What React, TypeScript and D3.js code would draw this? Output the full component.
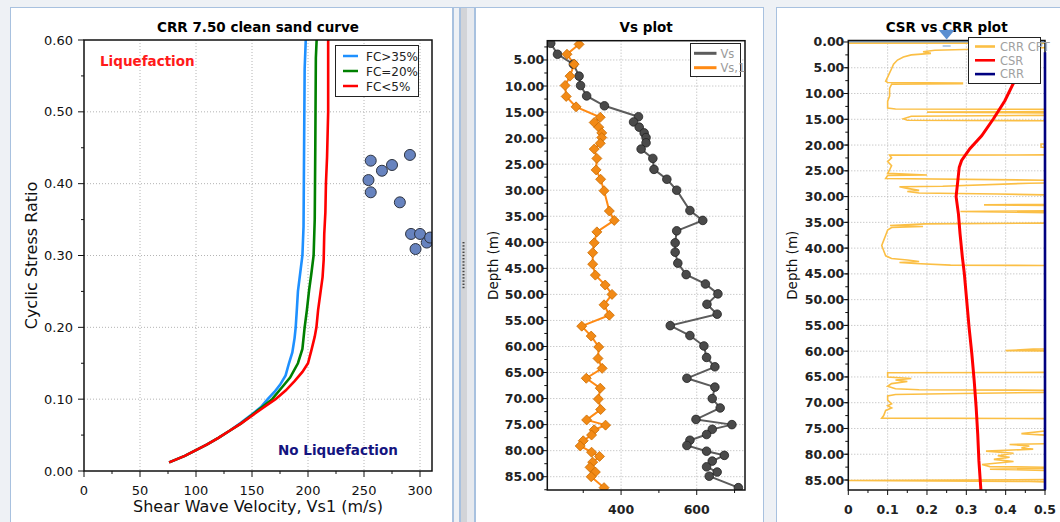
import React from 'react';
import * as d3 from 'd3';

// ---------- Panel 1: CRR clean sand curves ----------
const P1_TITLE = 'CRR 7.50 clean sand curve';
const P1_X_TICKS = [0, 50, 100, 150, 200, 250, 300];
const P1_Y_TICKS = [0, 0.1, 0.2, 0.3, 0.4, 0.5, 0.6];
const FC35_CURVE: [number, number][] = [
  [76, 0.012], [90, 0.021], [100, 0.029], [110, 0.037], [120, 0.046], [130, 0.056], [140, 0.067],
  [150, 0.079], [158, 0.089], [164, 0.1], [170, 0.11], [175, 0.12], [180, 0.133], [183, 0.15],
  [186, 0.165], [188, 0.185], [189, 0.2], [190, 0.224], [191, 0.25], [193, 0.275], [195, 0.3],
  [196, 0.34], [196.5, 0.45], [197, 0.56], [198, 0.6],
];
const FC20_CURVE: [number, number][] = [
  [76, 0.012], [90, 0.021], [100, 0.029], [110, 0.037], [120, 0.046], [130, 0.056], [140, 0.066],
  [150, 0.078], [160, 0.09], [168, 0.1], [177, 0.117], [184, 0.13], [191, 0.15], [195, 0.17],
  [197, 0.2], [199, 0.224], [201, 0.252], [203, 0.275], [205, 0.3], [206, 0.35], [206.5, 0.45],
  [207, 0.575], [207.7, 0.6],
];
const FC5_CURVE: [number, number][] = [
  [76, 0.012], [90, 0.021], [100, 0.029], [110, 0.037], [120, 0.046], [130, 0.056], [140, 0.066],
  [150, 0.077], [160, 0.088], [171, 0.1], [180, 0.112], [188, 0.125], [195, 0.138], [200, 0.15],
  [203, 0.168], [206, 0.187], [207.5, 0.2], [209, 0.224], [211, 0.247], [213, 0.27], [214, 0.294],
  [214.5, 0.33], [215.5, 0.36], [216, 0.4], [217, 0.437], [218, 0.5], [218, 0.6],
];
const FIELD_POINTS: [number, number][] = [
  [254, 0.405], [256, 0.432], [256, 0.388], [266, 0.418], [275, 0.426], [291, 0.44],
  [282, 0.374], [292, 0.33], [300, 0.33], [296, 0.309], [306, 0.318], [309, 0.325],
];
const P1_LEGEND = ['FC>35%', 'FC=20%', 'FC<5%'];
const P1_COLORS = ['#1e90ff', '#008000', '#ff0000'];

// ---------- Panel 2: Vs profile ([depth, value]) ----------
const VS_PROFILE: [number, number][] = [
  [1.8, 214], [3.9, 232], [5.8, 274], [8.1, 289], [9.9, 293], [11.9, 309], [13.8, 356], [15.9, 446],
  [16.9, 433], [17.9, 448], [19.0, 461], [19.9, 466], [20.9, 466], [22.1, 453], [23.9, 484], [26.0, 487],
  [27.9, 521], [30.0, 547], [33.9, 582], [35.8, 616], [37.8, 547], [40.1, 543], [41.9, 543], [44.0, 550],
  [46.2, 572], [48.0, 623], [49.9, 656], [51.9, 627], [53.8, 654], [56.0, 530], [57.9, 582], [59.9, 619],
  [62.1, 626], [63.9, 648], [66.1, 574], [67.8, 648], [70.0, 641], [71.8, 662], [74.0, 598], [75.0, 693],
  [75.9, 641], [76.9, 626], [78.0, 582], [79.0, 574], [80.1, 626], [80.9, 673], [82.0, 641], [83.1, 626],
  [84.1, 654], [84.9, 633], [87.1, 710],
];
const VS1_PROFILE: [number, number][] = [
  [2.0, 289], [3.9, 257], [5.8, 276], [8.1, 265], [9.9, 252], [12.0, 255], [14.0, 281], [16.0, 345],
  [17.0, 329], [17.9, 341], [19.0, 349], [19.9, 349], [21.0, 345], [22.1, 329], [23.9, 336], [26.1, 334],
  [27.9, 346], [30.1, 355], [34.0, 369], [35.8, 382], [38.0, 336], [40.1, 329], [42.0, 325], [44.2, 325],
  [46.3, 332], [48.2, 358], [50.0, 376], [52.0, 355], [54.0, 369], [56.1, 296], [58.0, 321], [60.1, 341],
  [62.3, 339], [64.2, 350], [66.1, 308], [68.0, 345], [70.1, 340], [72.1, 346], [74.1, 309], [75.1, 359],
  [76.0, 329], [77.0, 322], [78.1, 300], [79.1, 292], [80.3, 322], [81.1, 343], [82.2, 325], [83.2, 318],
  [84.1, 332], [85.0, 321], [87.1, 355],
];
const P2_X_TICKS = [400, 600];
const P2_X_MINOR = [300, 500, 700];
const P2_Y_TICKS = [5, 10, 15, 20, 25, 30, 35, 40, 45, 50, 55, 60, 65, 70, 75, 80, 85];
const P2_LEGEND = ['Vs', 'Vs,1'];

// ---------- Panel 3: CSR vs CRR ([value, depth]) ----------
const CSR_PROFILE: [number, number][] = [
  [0.46, 4.5], [0.44, 6], [0.419, 8.1], [0.398, 11.4], [0.369, 14.9], [0.339, 18.2], [0.309, 20.7],
  [0.288, 23.0], [0.282, 24.3], [0.278, 27.2], [0.274, 30.0], [0.28, 33.4], [0.284, 37.2], [0.29, 41.8],
  [0.295, 45.0], [0.301, 50.2], [0.307, 55.4], [0.314, 60.5], [0.32, 65.7], [0.325, 70.9], [0.329, 76.1],
  [0.332, 81.3], [0.337, 86.9],
];
const CRR_PROFILE: [number, number][] = [[0.5, 2.0], [0.5, 86.9]];
const CRR_CPT_PROFILE: [number, number][] = [
  [0.0, 0.25], [0.6, 0.25], [0.6, 0.9], [0.45, 1.2], [0.32, 1.4], [0.22, 1.6], [0.19, 1.9], [0.21, 2.2],
  [0.16, 2.5], [0.14, 2.9], [0.125, 3.5], [0.115, 4.3], [0.11, 5.2], [0.105, 6.0], [0.1, 6.8], [0.095, 7.6],
  [0.1, 7.85], [0.29, 7.95], [0.29, 8.1], [0.11, 8.2], [0.105, 9.0], [0.105, 10.5], [0.1, 11.5], [0.1, 12.8],
  [0.12, 13.0], [0.6, 13.1], [0.6, 13.5], [0.2, 13.6], [0.6, 13.8], [0.6, 14.2], [0.16, 14.4], [0.14, 14.9],
  [0.15, 15.2], [0.6, 15.3], [0.6, 19.6], [0.49, 19.8], [0.49, 20.4], [0.6, 20.6], [0.6, 21.9],
  [0.105, 21.95], [0.11, 22.5], [0.1, 23.2], [0.11, 24], [0.105, 24.8], [0.1, 25.5], [0.2, 25.8],
  [0.1, 25.9], [0.095, 26.5], [0.6, 26.9], [0.6, 27.3], [0.46, 27.4], [0.24, 28.0], [0.13, 28.1],
  [0.15, 28.4], [0.18, 28.8], [0.15, 29.0], [0.18, 29.3], [0.38, 29.5], [0.6, 29.8], [0.6, 31.5],
  [0.345, 31.6], [0.6, 31.8], [0.6, 32.7], [0.285, 32.9], [0.6, 33.2], [0.6, 35.1], [0.196, 35.3],
  [0.106, 35.6], [0.19, 35.8], [0.11, 36.0], [0.1, 36.5], [0.095, 37.5], [0.09, 38.5], [0.085, 39.5],
  [0.09, 40.5], [0.095, 41.5], [0.11, 42.0], [0.15, 42.3], [0.18, 42.6], [0.13, 42.8], [0.17, 43.0],
  [0.26, 43.3], [0.6, 43.4], [0.6, 59.5], [0.47, 59.6], [0.4, 59.9], [0.6, 60.0], [0.6, 64.1],
  [0.1, 64.2], [0.1, 65.0], [0.16, 65.3], [0.12, 65.6], [0.15, 65.9], [0.11, 66.3], [0.1, 66.8],
  [0.12, 67.3], [0.18, 67.5], [0.6, 67.6], [0.6, 67.9], [0.285, 68.2], [0.12, 68.4], [0.1, 68.7],
  [0.1, 69.5], [0.11, 70.2], [0.1, 70.6], [0.11, 71.0], [0.095, 71.5], [0.09, 72.5], [0.085, 73.0],
  [0.6, 73.1], [0.6, 75.3], [0.5, 75.5], [0.44, 76.0], [0.5, 76.3], [0.6, 76.5], [0.6, 77.8],
  [0.41, 78.1], [0.46, 78.4], [0.44, 78.8], [0.47, 79.0], [0.35, 79.4], [0.42, 79.8], [0.38, 80.3],
  [0.41, 80.6], [0.37, 81.0], [0.42, 81.4], [0.34, 82.0], [0.36, 82.4], [0.6, 82.6], [0.36, 82.9],
  [0.6, 83.3], [0.6, 84.9], [0.0, 85.1], [0.46, 85.3], [0.6, 85.5], [0.6, 87.1],
];
const WATER_TABLE = { value: 0.25, depth: 0 };
const P3_X_TICKS = [0, 0.1, 0.2, 0.3, 0.4, 0.5];
const P3_Y_TICKS = [0, 5, 10, 15, 20, 25, 30, 35, 40, 45, 50, 55, 60, 65, 70, 75, 80, 85];
const P3_LEGEND = ['CRR CPT', 'CSR', 'CRR'];
const P3_COLORS = ['#fbbf45', '#ff0000', '#000080'];

const FONT = "'DejaVu Sans', Verdana, sans-serif";
const FRAME = '#a8c1df';
const GRID = '#b4b4b4';

export default function App() {
  // scales
  const x1 = d3.scaleLinear().domain([0, 310.7]).range([84, 432]);
  const y1 = d3.scaleLinear().domain([0, 0.6]).range([471, 40]);
  const x2 = d3.scaleLinear().domain([205, 727.6]).range([547.3, 745]);
  const y2 = d3.scaleLinear().domain([1.3, 87.55]).range([40.7, 490]);
  const x3 = d3.scaleLinear().domain([0, 0.5]).range([848.3, 1045]);
  const y3 = d3.scaleLinear().domain([-0.29, 86.94]).range([40.5, 490]);

  const line1 = d3.line<[number, number]>().x(d => x1(d[0])).y(d => y1(d[1]));
  const line2 = d3.line<[number, number]>().x(d => x2(d[1])).y(d => y2(d[0]));
  const line3 = d3.line<[number, number]>().x(d => x3(d[0])).y(d => y3(d[1]));

  const [p1l, p1r] = x1.range();
  const [p1b, p1t] = y1.range();
  const [p2l, p2r] = x2.range();
  const [p2t, p2b] = y2.range();
  const [p3l, p3r] = x3.range();
  const [p3t, p3b] = y3.range();

  const p1xMinor = d3.range(25, 311, 25);
  const p1yMinor = d3.range(0.05, 0.6, 0.1);
  const p2yMinor = d3.range(2.5, 88, 2.5);
  const p3yMinor = d3.range(2.5, 87, 2.5);
  const p3xMinor = d3.range(0.05, 0.5, 0.1);

  const diamond = (cx: number, cy: number, r: number) =>
    `M${cx},${cy - r}L${cx + r},${cy}L${cx},${cy + r}L${cx - r},${cy}Z`;

  return (
    <svg width={1060} height={522} style={{ position: 'absolute', left: 0, top: 0, display: 'block' }}
      fontFamily={FONT}>
      <defs>
        <clipPath id="c1"><rect x={p1l} y={p1t} width={p1r - p1l} height={p1b - p1t} /></clipPath>
        <clipPath id="c2"><rect x={p2l} y={p2t} width={p2r - p2l} height={p2b - p2t} /></clipPath>
        <clipPath id="c3"><rect x={p3l} y={p3t - 2} width={p3r - p3l} height={p3b - p3t + 2} /></clipPath>
      </defs>
      <rect x={0} y={0} width={1060} height={522} fill="#eef1f5" />

      {/* frames */}
      <rect x={10.5} y={7.5} width={442} height={530} fill="#fff" stroke={FRAME} />
      <rect x={453.5} y={7.5} width={6} height={530} fill="#eef1f5" stroke={FRAME} />
      <rect x={460.5} y={7.5} width={14} height={530} fill="#e6e9ee" stroke={FRAME} />
      <rect x={461} y={8} width={6} height={530} fill="#d2d4d8" />
      {d3.range(242, 290, 3.2).map((yy, i) => (
        <rect key={i} x={462.5} y={yy} width={2} height={1.4} fill="#444" />
      ))}
      <rect x={475.5} y={7.5} width={288} height={530} fill="#fff" stroke={FRAME} />
      <rect x={776.5} y={7.5} width={300} height={530} fill="#fff" stroke={FRAME} />

      {/* ================= Panel 1 ================= */}
      <g>
        {P1_X_TICKS.filter(t => t > 0).map(t => (
          <line key={'gx' + t} x1={x1(t)} x2={x1(t)} y1={p1t} y2={p1b} stroke={GRID} strokeDasharray="1,2" />
        ))}
        {P1_Y_TICKS.filter(t => t > 0 && t < 0.6).map(t => (
          <line key={'gy' + t} x1={p1l} x2={p1r} y1={y1(t)} y2={y1(t)} stroke={GRID} strokeDasharray="1,2" />
        ))}
        <g clipPath="url(#c1)">
          {[FC35_CURVE, FC20_CURVE, FC5_CURVE].map((c, i) => (
            <path key={i} d={line1(c) || ''} fill="none" stroke={P1_COLORS[i]} strokeWidth={2.6} />
          ))}
          {FIELD_POINTS.map((p, i) => (
            <circle key={i} cx={x1(p[0])} cy={y1(p[1])} r={5.5} fill="#6783bf" stroke="#2d3340" strokeWidth={1} />
          ))}
        </g>
        <rect x={p1l} y={p1t} width={p1r - p1l} height={p1b - p1t} fill="none" stroke="#111" strokeWidth={1.5} />
        {P1_X_TICKS.map(t => (
          <g key={'tx' + t}>
            <line x1={x1(t)} x2={x1(t)} y1={p1b} y2={p1b + 6} stroke="#111" />
            <text x={x1(t)} y={495} fontSize={13} textAnchor="middle" fill="#111">{t}</text>
          </g>
        ))}
        {p1xMinor.filter(t => P1_X_TICKS.indexOf(t) < 0).map(t => (
          <line key={'mx' + t} x1={x1(t)} x2={x1(t)} y1={p1b} y2={p1b + 3} stroke="#111" />
        ))}
        {P1_Y_TICKS.map(t => (
          <g key={'ty' + t}>
            <line x1={p1l - 6} x2={p1l} y1={y1(t)} y2={y1(t)} stroke="#111" />
            <text x={73} y={y1(t) + 4.5} fontSize={13} textAnchor="end" fill="#111">{t.toFixed(2)}</text>
          </g>
        ))}
        {p1yMinor.map(t => (
          <line key={'my' + t} x1={p1l - 3} x2={p1l} y1={y1(t)} y2={y1(t)} stroke="#111" />
        ))}
        <text x={(p1l + p1r) / 2} y={31.5} fontSize={13.5} fontWeight="bold" textAnchor="middle" fill="#000">{P1_TITLE}</text>
        <text x={(p1l + p1r) / 2} y={512} fontSize={16} textAnchor="middle" fill="#111">Shear Wave Velocity, Vs1 (m/s)</text>
        <text transform={`translate(37,${(p1t + p1b) / 2}) rotate(-90)`} fontSize={16} textAnchor="middle" fill="#111">Cyclic Stress Ratio</text>
        <text x={100} y={65.5} fontSize={13.5} fontWeight="bold" fill="#ff1a1a">Liquefaction</text>
        <text x={278} y={455} fontSize={13.5} fontWeight="bold" fill="#141480">No Liquefaction</text>
        {/* legend */}
        <rect x={335.5} y={45.5} width={83} height={51} fill="#fff" stroke="#222" />
        {P1_LEGEND.map((s, i) => (
          <g key={s}>
            <line x1={343} x2={358} y1={56 + i * 15} y2={56 + i * 15} stroke={P1_COLORS[i]} strokeWidth={2.5} />
            <text x={366} y={60.5 + i * 15} fontSize={12} fill="#222">{s}</text>
          </g>
        ))}
      </g>

      {/* ================= Panel 2 ================= */}
      <g>
        {P2_X_TICKS.map(t => (
          <line key={'gx' + t} x1={x2(t)} x2={x2(t)} y1={p2t} y2={p2b} stroke={GRID} strokeDasharray="1,2" />
        ))}
        {P2_Y_TICKS.map(t => (
          <line key={'gy' + t} x1={p2l} x2={p2r} y1={y2(t)} y2={y2(t)} stroke={GRID} strokeDasharray="1,2" />
        ))}
        <g clipPath="url(#c2)">
          <path d={line2(VS_PROFILE) || ''} fill="none" stroke="#5c5c5c" strokeWidth={2} />
          <path d={line2(VS1_PROFILE) || ''} fill="none" stroke="#ff8a14" strokeWidth={2} />
          {VS_PROFILE.map((p, i) => (
            <circle key={'v' + i} cx={x2(p[1])} cy={y2(p[0])} r={4.3} fill="#4a4a4a" stroke="#222" strokeWidth={0.8} />
          ))}
          {VS1_PROFILE.map((p, i) => (
            <path key={'w' + i} d={diamond(x2(p[1]), y2(p[0]), 5)} fill="#f28a16" stroke="#c96b00" strokeWidth={0.8} />
          ))}
        </g>
        <rect x={p2l} y={p2t} width={p2r - p2l} height={p2b - p2t} fill="none" stroke="#111" strokeWidth={1.5} />
        {P2_X_TICKS.map(t => (
          <g key={'tx' + t}>
            <line x1={x2(t)} x2={x2(t)} y1={p2b} y2={p2b + 5} stroke="#111" />
            <text x={x2(t)} y={514} fontSize={12.5} fontWeight="bold" textAnchor="middle" fill="#222">{t}</text>
          </g>
        ))}
        {P2_X_MINOR.map(t => (
          <line key={'mx' + t} x1={x2(t)} x2={x2(t)} y1={p2b} y2={p2b + 3} stroke="#111" />
        ))}
        {P2_Y_TICKS.map(t => (
          <text key={'ty' + t} x={p2l - 3} y={y2(t) + 4.5} fontSize={12.5} fontWeight="bold" textAnchor="end" fill="#222">{t.toFixed(2)}</text>
        ))}
        {p2yMinor.filter(t => t > 1.3).map(t => (
          <line key={'my' + t} x1={p2l - (t % 5 === 0 ? 5 : 3)} x2={p2l} y1={y2(t)} y2={y2(t)} stroke="#111" />
        ))}
        <text x={(p2l + p2r) / 2} y={32} fontSize={13.5} fontWeight="bold" textAnchor="middle" fill="#000">Vs plot</text>
        <text transform={`translate(498,${(p2t + p2b) / 2}) rotate(-90)`} fontSize={13.5} textAnchor="middle" fill="#111">Depth (m)</text>
        <rect x={690.5} y={43.5} width={50} height={33} fill="#fff" stroke="#222" />
        {P2_LEGEND.map((s, i) => (
          <g key={s}>
            <line x1={694} x2={716.5} y1={53.3 + i * 14.4} y2={53.3 + i * 14.4} stroke={i === 0 ? '#5c5c5c' : '#ff8a14'} strokeWidth={3} />
            <text x={720.5} y={57.5 + i * 14.4} fontSize={11.5} fill="#9a9a9a">{s}</text>
          </g>
        ))}
      </g>

      {/* ================= Panel 3 ================= */}
      <g>
        {P3_X_TICKS.filter(t => t > 0 && t < 0.5).map(t => (
          <line key={'gx' + t} x1={x3(t)} x2={x3(t)} y1={p3t} y2={p3b} stroke={GRID} strokeDasharray="1,2" />
        ))}
        {P3_Y_TICKS.filter(t => t > 0).map(t => (
          <line key={'gy' + t} x1={p3l} x2={p3r} y1={y3(t)} y2={y3(t)} stroke={GRID} strokeDasharray="1,2" />
        ))}
        <line x1={p3l} x2={p3r} y1={y3(WATER_TABLE.depth)} y2={y3(WATER_TABLE.depth)} stroke="#86acd9" strokeWidth={2} />
        <g clipPath="url(#c3)">
          <path d={line3(CRR_CPT_PROFILE) || ''} fill="none" stroke={P3_COLORS[0]} strokeWidth={1.6} />
          <path d={line3(CSR_PROFILE) || ''} fill="none" stroke={P3_COLORS[1]} strokeWidth={3} />
        </g>
        <rect x={p3l} y={p3t} width={p3r - p3l} height={p3b - p3t} fill="none" stroke="#111" strokeWidth={1.5} />
        <path d={line3(CRR_PROFILE) || ''} fill="none" stroke={P3_COLORS[2]} strokeWidth={2.6} />
        {P3_X_TICKS.map(t => (
          <g key={'tx' + t}>
            <line x1={x3(t)} x2={x3(t)} y1={p3b} y2={p3b + 5} stroke="#111" />
            <text x={x3(t)} y={514} fontSize={12.5} fontWeight="bold" textAnchor="middle" fill="#222">{String(t)}</text>
          </g>
        ))}
        {p3xMinor.map(t => (
          <line key={'mx' + t} x1={x3(t)} x2={x3(t)} y1={p3b} y2={p3b + 3} stroke="#111" />
        ))}
        {P3_Y_TICKS.map(t => (
          <g key={'ty' + t}>
            <line x1={p3l - 5} x2={p3l} y1={y3(t)} y2={y3(t)} stroke="#111" />
            <text x={p3l - 4} y={y3(t) + 4.5} fontSize={12.5} fontWeight="bold" textAnchor="end" fill="#222">{t.toFixed(2)}</text>
          </g>
        ))}
        {p3yMinor.map(t => (
          <line key={'my' + t} x1={p3l - 3} x2={p3l} y1={y3(t)} y2={y3(t)} stroke="#111" />
        ))}
        <text x={(p3l + p3r) / 2} y={32} fontSize={13.5} fontWeight="bold" textAnchor="middle" fill="#000">CSR vs CRR plot</text>
        <path d={`M${x3(WATER_TABLE.value) - 8},30L${x3(WATER_TABLE.value) + 8},30L${x3(WATER_TABLE.value)},39.5Z`} fill="#5b8fd0" />
        <line x1={x3(WATER_TABLE.value) - 4} x2={x3(WATER_TABLE.value) + 4} y1={46} y2={46} stroke="#86acd9" strokeWidth={1.2} />
        <text transform={`translate(797,${(p3t + p3b) / 2}) rotate(-90)`} fontSize={13.5} textAnchor="middle" fill="#111">Depth (m)</text>
        <rect x={968.5} y={37.5} width={72} height={46} fill="#fff" stroke="#222" />
        {P3_LEGEND.map((s, i) => (
          <g key={s}>
            <line x1={975} x2={995} y1={46.5 + i * 13.8} y2={46.5 + i * 13.8} stroke={P3_COLORS[i]} strokeWidth={2.6} />
            <text x={1000} y={50.8 + i * 13.8} fontSize={11.5} fill="#a0a0a0">{s}</text>
          </g>
        ))}
      </g>
    </svg>
  );
}
